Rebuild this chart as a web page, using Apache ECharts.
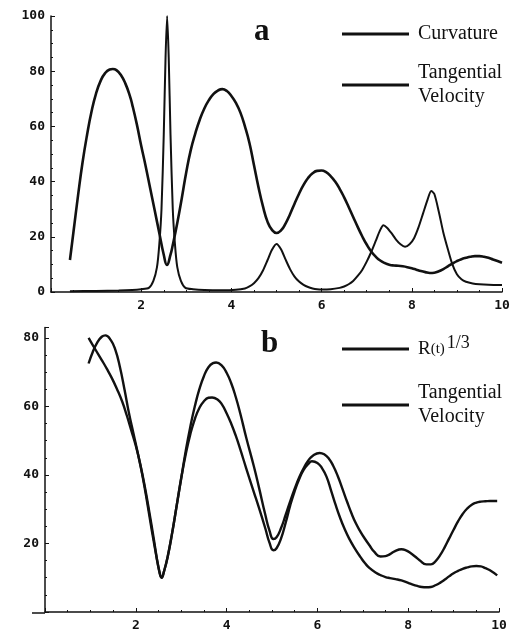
<!DOCTYPE html>
<html>
<head>
<meta charset="utf-8">
<script src="https://cdn.jsdelivr.net/npm/echarts@6/dist/echarts.min.js"></script>
<style>html,body{margin:0;padding:0;background:#fff;}#c{width:514px;height:632px;}</style>
</head>
<body>
<div id="c"></div>
<script>
// ---- Panel a: Curvature ----
const curvX = [0.42,1.0,1.5,1.8,2.0,2.17,2.27,2.35,2.4,2.45,2.5,2.54,2.575,2.61,2.65,2.7,2.75,2.8,2.88,2.98,3.15,3.4,3.8,4.1,4.3,4.4,4.5,4.6,4.7,4.8,4.9,5.0,5.1,5.2,5.3,5.4,5.5,5.6,5.7,5.8,5.9,6.0,6.2,6.4,6.5,6.6,6.7,6.8,6.9,7.0,7.1,7.2,7.3,7.37,7.45,7.55,7.65,7.75,7.85,7.95,8.05,8.15,8.25,8.35,8.43,8.5,8.6,8.7,8.8,8.9,9.0,9.1,9.2,9.35,9.5,9.7,10];
const curvY = [0.3,0.4,0.5,0.7,1.0,1.5,4,9,17,30,57,85,100,85,57,30,17,9,4,1.5,1.0,0.7,0.6,0.8,1.3,2,3.2,5,7.8,11.5,15.3,17.4,15.5,11.8,8.3,5.6,3.8,2.6,1.8,1.3,1.0,0.9,1.0,1.5,2.0,2.8,4,5.8,8,11,14.5,18.5,22.5,24.2,23.3,21.3,19,17.3,16.4,17.3,19.5,23.5,28.5,33.5,36.6,35.5,29,21.5,15.5,10,6.4,4.6,3.7,3.1,2.8,2.6,2.5];
// ---- Panel a: Tangential velocity ----
const velAX = [0.42,0.5,0.6,0.7,0.8,0.9,1.0,1.1,1.2,1.3,1.37,1.45,1.55,1.65,1.75,1.8,1.9,2.0,2.1,2.2,2.3,2.4,2.5,2.57,2.65,2.7,2.8,2.9,3.0,3.1,3.2,3.3,3.4,3.5,3.6,3.7,3.8,3.9,4.0,4.1,4.2,4.3,4.4,4.5,4.6,4.7,4.8,4.9,5.0,5.1,5.2,5.3,5.4,5.5,5.6,5.7,5.8,5.9,6.0,6.1,6.2,6.3,6.4,6.5,6.6,6.7,6.8,6.9,7.0,7.1,7.2,7.3,7.4,7.5,7.6,7.7,7.8,7.9,8.0,8.1,8.2,8.3,8.4,8.5,8.6,8.7,8.8,8.9,9.0,9.1,9.2,9.3,9.4,9.5,9.6,9.7,9.8,9.9,10];
const velAY = [11.6,22,35,47,57,65.5,72,76.5,79.3,80.6,80.8,80.4,78.6,75.5,71,68,61,53,45.5,37.5,29.5,21.5,13.5,9.8,13.5,17,25,34,43.5,51.5,57.5,62.5,66.5,69.5,71.7,73,73.5,72.8,71,68.5,65,60,54,46,38,31,25.5,22.5,21.4,22.3,24.8,28.2,32,35.6,38.8,41.3,43,43.9,44,43.4,42,40,37.4,34.3,30.8,27.2,23.6,20.2,17.2,14.7,12.8,11.4,10.5,9.9,9.6,9.5,9.3,9,8.6,8.1,7.6,7.2,6.9,7,7.5,8.3,9.3,10.3,11.2,11.9,12.4,12.8,13,13,12.8,12.4,11.8,11.2,10.6];
// ---- Panel b: R(t)^(1/3) ----
const rX = [0.96,1.05,1.15,1.25,1.33,1.45,1.55,1.65,1.75,1.85,1.95,2.05,2.15,2.25,2.35,2.45,2.52,2.57,2.62,2.7,2.8,2.9,3.0,3.1,3.2,3.3,3.4,3.5,3.6,3.7,3.77,3.9,4.0,4.1,4.2,4.3,4.43,4.6,4.71,4.85,4.95,5.03,5.1,5.2,5.3,5.4,5.5,5.6,5.7,5.8,5.9,6.05,6.15,6.25,6.35,6.45,6.55,6.65,6.75,6.85,6.95,7.05,7.15,7.25,7.39,7.5,7.6,7.7,7.85,7.95,8.05,8.15,8.25,8.4,8.5,8.6,8.7,8.8,8.9,9.0,9.1,9.2,9.3,9.4,9.5,9.6,9.7,9.8,9.96];
const rY = [72.5,75.8,78.6,80.3,80.7,79.3,76.5,71.5,65,58,52,46,39.5,32,24,16.5,11.8,10,11.8,16,23,31,39,47,54,60,65,68.8,71.4,72.6,72.8,71.8,69.8,66.8,62.8,58,51,42.5,36.5,28.5,23.5,21.3,21.8,24.5,28.3,32.3,36,39.3,42,44.2,45.6,46.4,46,44.8,42.6,39.6,36,32.3,28.8,25.8,23.4,21.3,19.4,17.6,16.2,16.3,16.9,17.7,18.3,18,17.2,16.2,15.1,13.9,13.9,14.8,16.5,18.8,21.4,24,26.5,28.6,30.2,31.3,31.9,32.2,32.3,32.4,32.4];
// ---- Panel b: Tangential velocity ----
const velBX = [0.96,1.1,1.25,1.36,1.47,1.58,1.7,1.8,1.9,2.0,2.1,2.2,2.3,2.4,2.5,2.57,2.62,2.7,2.8,2.9,3.0,3.1,3.2,3.3,3.4,3.5,3.6,3.68,3.8,3.9,4.0,4.1,4.2,4.3,4.43,4.6,4.71,4.85,4.95,5.03,5.1,5.2,5.3,5.4,5.5,5.6,5.7,5.8,5.88,6.0,6.1,6.2,6.3,6.4,6.5,6.6,6.7,6.84,6.95,7.05,7.15,7.28,7.4,7.5,7.6,7.72,7.85,8.0,8.1,8.2,8.3,8.4,8.5,8.6,8.7,8.8,8.9,9.0,9.1,9.2,9.3,9.4,9.5,9.6,9.7,9.8,9.96];
const velBY = [80,76.8,73.5,71,68.3,65.2,61.4,57.4,53,48.5,43,36.5,29,21,13,10,11.8,16,23,31,39,46,51.8,56.3,59.5,61.5,62.5,62.6,62,60.5,58,55,51.5,47.5,42,35,30.5,24.5,20,18,18.6,21.5,26,31,35.3,38.8,41.5,43.2,44,43.5,42,39.5,35.5,31.3,27.5,24.2,21.4,18.2,16,14.2,12.8,11.5,10.7,10.2,9.9,9.6,9.2,8.5,8,7.6,7.3,7.2,7.3,7.8,8.5,9.4,10.4,11.3,12,12.6,13,13.3,13.4,13.3,12.8,12.2,10.7];
// ---- Tick labels ----
const xTicks = [2,4,6,8,10];
const yTicksA = [0,20,40,60,80,100];
const yTicksB = [20,40,60,80];

const zip = (xs, ys) => xs.map((x, i) => [x, ys[i]]);
const labelFont = {fontFamily:'DejaVu Sans Mono', fontWeight:'bold', fontSize:13, color:'#111'};
const serif = 'Liberation Serif';

function xAxisFor(gi) {
  return {
    type:'value', gridIndex:gi, min:0, max:10, interval:2,
    axisLine:{show:true, onZero:false, lineStyle:{color:'#111', width:1.5}},
    axisTick:{show:true, inside:true, length:4, lineStyle:{color:'#111'}},
    minorTick:{show:true, splitNumber:4, length:2, lineStyle:{color:'#111'}},
    splitLine:{show:false},
    axisLabel:Object.assign({margin:7, formatter:v => xTicks.includes(v) ? String(v) : ''}, labelFont)
  };
}
function yAxisFor(gi, max, ticks) {
  return {
    type:'value', gridIndex:gi, min:0, max:max, interval:20,
    axisLine:{show:true, onZero:false, lineStyle:{color:'#111', width:1.5}},
    axisTick:{show:true, inside:true, length:4, lineStyle:{color:'#111'}},
    minorTick:{show:true, splitNumber:4, length:2, lineStyle:{color:'#111'}},
    splitLine:{show:false},
    axisLabel:Object.assign({margin:6, formatter:v => ticks.includes(v) ? String(v) : ''}, labelFont)
  };
}
function lineSeries(name, gi, data, width, smooth) {
  return {
    name, type:'line', xAxisIndex:gi, yAxisIndex:gi, data, symbol:'none',
    smooth:smooth, color:'#111', lineStyle:{color:'#111', width:width}, animation:false
  };
}

const chart = echarts.init(document.getElementById('c'), null, {renderer:'canvas'});
chart.setOption({
  backgroundColor:'#fff',
  animation:false,
  title:[
    {text:'a', left:249, top:11, textStyle:{fontFamily:serif, fontWeight:'bold', fontSize:31, color:'#111'}},
    {text:'b', left:256, top:323, textStyle:{fontFamily:serif, fontWeight:'bold', fontSize:31, color:'#111'}}
  ],
  grid:[
    {left:51, right:12, top:16, height:276},
    {left:45, right:15, top:327.5, height:285.5}
  ],
  xAxis:[xAxisFor(0), xAxisFor(1)],
  yAxis:[yAxisFor(0, 100, yTicksA), yAxisFor(1, 83, yTicksB)],
  legend:[
    {
      left:337, top:17, orient:'vertical', itemWidth:67, itemHeight:3, itemGap:15,
      icon:'rect', selectedMode:false,
      data:['Curvature','Tangential Velocity'],
      formatter:n => n === 'Tangential Velocity' ? 'Tangential\nVelocity' : n,
      textStyle:{fontFamily:serif, fontSize:20, lineHeight:24, color:'#111', padding:[0,0,0,4]}
    },
    {
      left:337, top:329, orient:'vertical', itemWidth:67, itemHeight:3, itemGap:17,
      icon:'rect', selectedMode:false,
      data:['R(t)^1/3','Tangential Velocity '],
      formatter:n => n === 'R(t)^1/3' ? '{r|R}{t|(t)}{s|1/3}' : 'Tangential\nVelocity',
      textStyle:{fontFamily:serif, fontSize:20, lineHeight:24, color:'#111', padding:[0,0,0,4],
        rich:{
          r:{fontFamily:serif, fontSize:19, lineHeight:30, color:'#111'},
          t:{fontFamily:serif, fontSize:15, lineHeight:30, color:'#111'},
          s:{fontFamily:serif, fontSize:18, lineHeight:27, verticalAlign:'top', color:'#111', padding:[0,0,0,2]}
        }}
    }
  ],
  graphic:[
    {type:'line', shape:{x1:32, y1:613, x2:45, y2:613}, style:{stroke:'#111', lineWidth:1.5}}
  ],
  series:[
    lineSeries('Curvature', 0, zip(curvX, curvY), 2, 0.25),
    lineSeries('Tangential Velocity', 0, zip(velAX, velAY), 2.6, 0.5),
    lineSeries('R(t)^1/3', 1, zip(rX, rY), 2.4, 0.5),
    lineSeries('Tangential Velocity ', 1, zip(velBX, velBY), 2.4, 0.5)
  ]
});
</script>
</body>
</html>
